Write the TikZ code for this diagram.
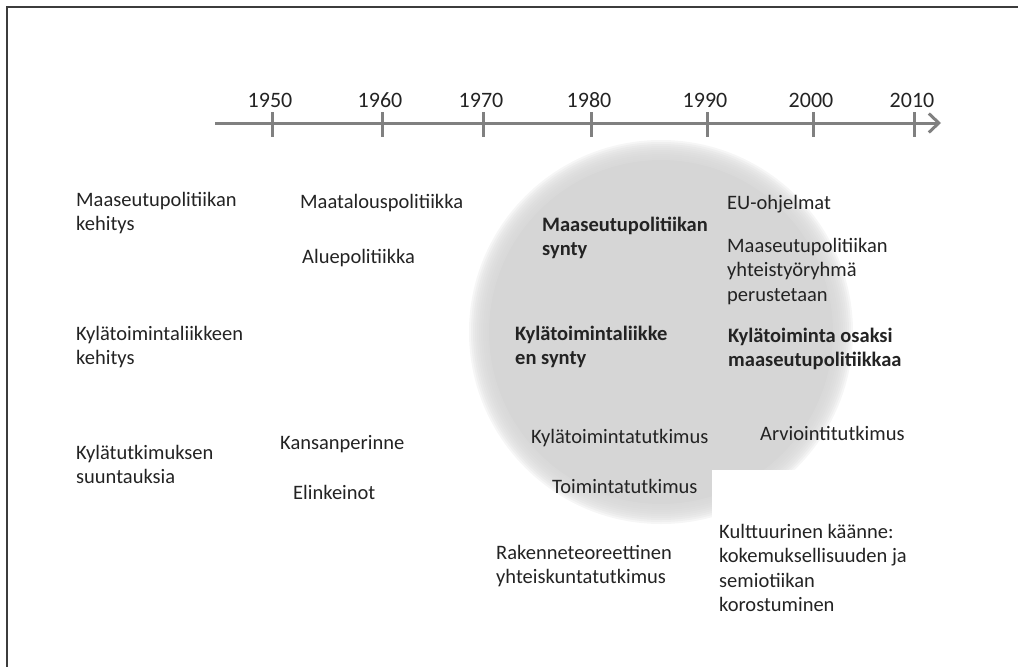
\documentclass[tikz,border=0pt]{standalone}
\usepackage{fontspec}
\setmainfont{Carlito}
\usetikzlibrary{arrows.meta}
\definecolor{axisgray}{RGB}{128,128,128}
\definecolor{framegray}{RGB}{60,60,60}
\definecolor{txt}{RGB}{35,35,35}
\definecolor{circgray}{RGB}{214,214,214}
\begin{document}
\begin{tikzpicture}[x=1pt,y=-1pt,
  lbl/.style={anchor=north west, inner sep=0pt, align=left, text=txt,
    font=\fontsize{20.5}{24.5}\selectfont, execute at begin node=\strut, yshift=17.15pt},
  bl/.style={lbl, font=\fontsize{20.5}{24.5}\selectfont\bfseries},
  yearlbl/.style={anchor=base, inner sep=0pt, text=txt, font=\fontsize{22}{26}\selectfont},
  axisline/.style={draw=axisgray, line width=3pt},
  tickmark/.style={draw=axisgray, line width=3pt},
  bgbox/.style={fill=white, draw=none, inner sep=0pt, anchor=north west},
  discring/.style={fill=circgray, fill opacity=0.22, draw=none},
  framepen/.style={draw=framegray, line width=2pt}]
\useasboundingbox (0,0) rectangle (1018,667);
% frame
\coordinate (fbl) at (6.5,667);
\coordinate (ftl) at (6.5,7);
\coordinate (ftr) at (1018,7);
\draw[framepen] (fbl) -- (ftl) -- (ftr);
% grey disc with soft edge
\coordinate (disc) at (661,332);
\fill[circgray] (disc) circle[radius=172];
\foreach \r in {174,176,...,192}{
  \fill[discring] (disc) circle[radius=\r];
}
% white background of the lower right text box
\node[bgbox, minimum width=198pt, minimum height=157pt] (kkbg) at (712,470) {};
% timeline
\coordinate (axstart) at (215,123);
\coordinate (axend) at (941,123);
\draw[axisline, -{Straight Barb[length=10pt,width=19pt]}] (axstart) -- (axend);
\foreach \yr/\xx in {1950/272,1960/382,1970/483,1980/591,1990/707,2000/813,2010/914}{
  \coordinate (t\yr) at (\xx,123);
  \draw[tickmark] ([yshift=11pt]t\yr) -- ([yshift=-14pt]t\yr);
  \node[yearlbl] (y\yr) at ([xshift=-2pt,yshift=16pt]t\yr) {\yr};
}
% left column
\node[lbl] (mkeh) at (76,209) {Maaseutupolitiikan\\kehitys};
\node[lbl] (kkeh) at (76,343) {Kylätoimintaliikkeen\\kehitys};
\node[lbl] (ksuu) at (76,462) {Kylätutkimuksen\\suuntauksia};
% 1950s-60s
\node[lbl] (maat) at (300,208) {Maatalouspolitiikka};
\node[lbl] (alue) at (302,263) {Aluepolitiikka};
\node[lbl] (kans) at (280,449) {Kansanperinne};
\node[lbl] (elin) at (293,499) {Elinkeinot};
% 1970s-80s
\node[bl] (msyn) at (542,234) {Maaseutupolitiikan\\synty};
\node[bl] (ksyn) at (515,343) {Kylätoimintaliikke\\en synty};
\node[lbl] (ktut) at (531,443) {Kylätoimintatutkimus};
\node[lbl] (ttut) at (552,493) {Toimintatutkimus};
\node[lbl] (rake) at (496,562) {Rakenneteoreettinen\\yhteiskuntatutkimus};
% 1990s-2000s
\node[lbl] (euoh) at (727,209) {EU-ohjelmat};
\node[lbl] (myht) at (727,255) {Maaseutupolitiikan\\yhteistyöryhmä\\perustetaan};
\node[bl] (kosa) at (728,345) {Kylätoiminta osaksi\\maaseutupolitiikkaa};
\node[lbl] (arvi) at (760,440) {Arviointitutkimus};
\node[lbl] (kult) at (719,541) {Kulttuurinen käänne:\\kokemuksellisuuden ja\\semiotiikan\\korostuminen};
\end{tikzpicture}
\end{document}
